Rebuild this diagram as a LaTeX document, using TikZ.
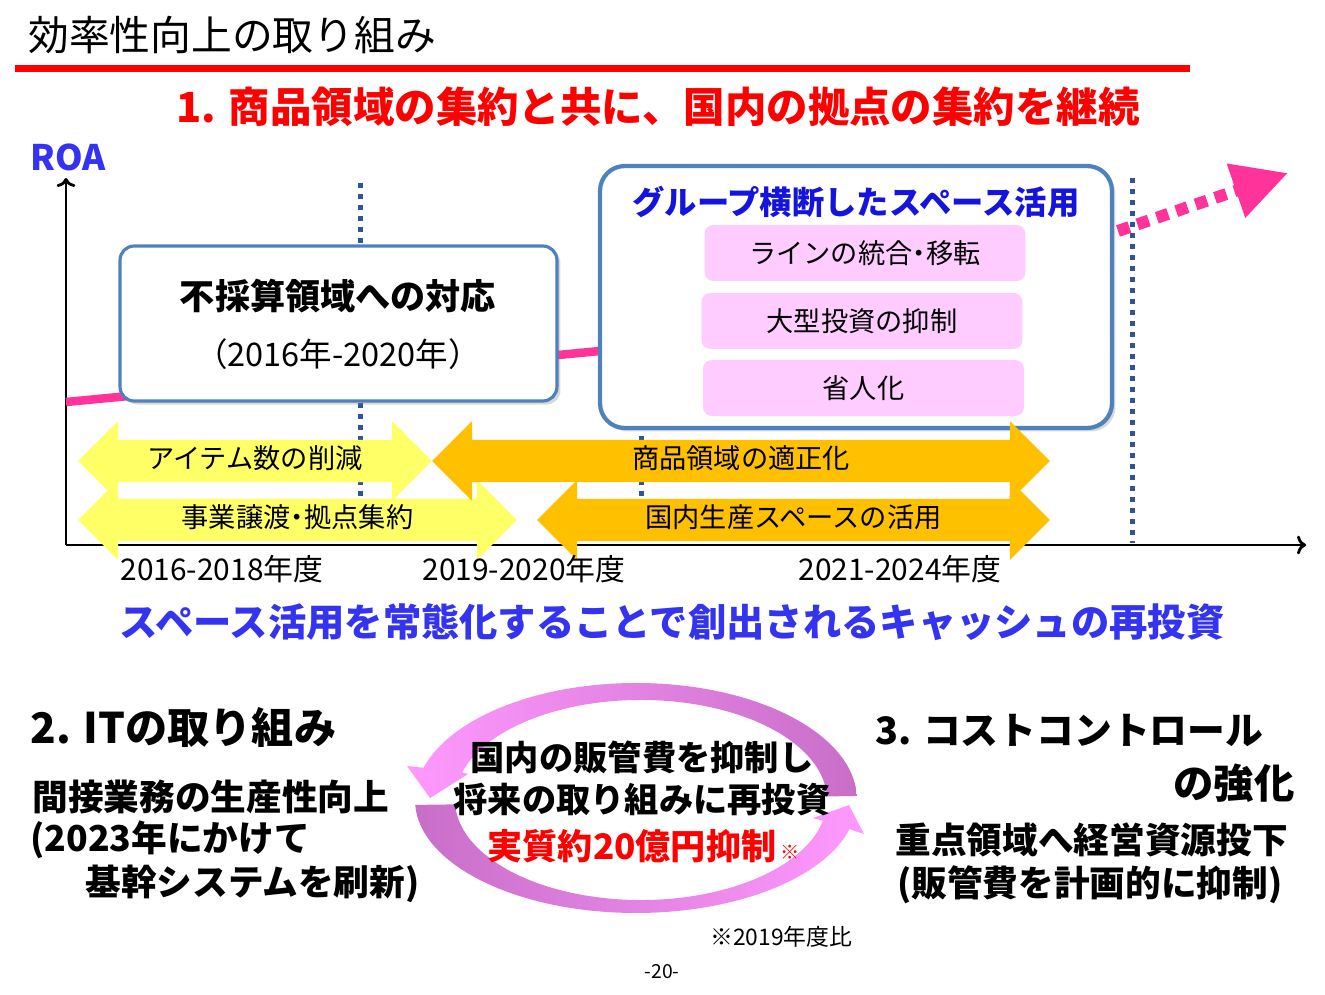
\documentclass[tikz,border=0pt]{standalone}
\usepackage{fontspec}
\setmainfont{Noto Sans CJK JP}
\definecolor{titlered}{RGB}{255, 0, 0}
\definecolor{roablue}{RGB}{51, 51, 240}
\definecolor{groupblue}{RGB}{20, 20, 220}
\definecolor{frameblue}{RGB}{79, 129, 189}
\definecolor{gridblue}{RGB}{47, 85, 151}
\definecolor{trendpink}{RGB}{255, 51, 153}
\definecolor{boxpink}{RGB}{255, 204, 255}
\definecolor{arrowyellow}{RGB}{255, 255, 102}
\definecolor{arrowgold}{RGB}{255, 192, 0}
\definecolor{ringpink}{RGB}{255, 153, 255}
\definecolor{ringpurple}{RGB}{200, 110, 200}
\usetikzlibrary{shapes.arrows, arrows.meta, shadows, positioning}
\newcommand{\middot}{\kern-0.25em・\kern-0.25em}

\begin{document}
\begin{tikzpicture}[x=0.02cm, y=0.02cm,
  roundbox/.style={draw=frameblue, fill=white, rounded corners=#1, drop shadow={shadow xshift=2pt, shadow yshift=-2pt, opacity=0.3}},
  pinkbox/.style={fill=boxpink, rounded corners=5pt, minimum width=6.42cm, minimum height=1.12cm, font=\fontsize{15.5}{18}\selectfont},
  periodarrow/.style={double arrow, double arrow head extend=0.38cm, text height=11pt, text depth=3pt, inner ysep=0.17cm, inner xsep=0pt, font=\fontsize{15.5}{18}\selectfont},
  vline/.style={gridblue, line width=0.1cm, dash pattern=on 0.1cm off 0.12cm},
  yearlabel/.style={font=\fontsize{17}{20}\selectfont},
  flush/.style={inner sep=0pt},
  sidetext/.style={flush, font=\bfseries\fontsize{20.3}{24}\selectfont},
  ringtext/.style={flush, font=\bfseries\fontsize{19.5}{23}\selectfont}]
\useasboundingbox (0,0) rectangle (1325,-994);

% title and heading
\node[flush, anchor=west, font=\fontsize{23.2}{27}\selectfont] (pagetitle) at (28,-35) {効率性向上の取り組み};
\coordinate (ruleleft) at (15,-68);
\coordinate (ruleright) at (1190,-68);
\draw[titlered, line width=0.14cm] (ruleleft) -- (ruleright);
\node[text=titlered, font=\bfseries\fontsize{23.6}{28}\selectfont] (mainhead) at (658,-107) {1. 商品領域の集約と共に、国内の拠点の集約を継続};

% axes
\node[flush, anchor=west, text=roablue, font=\bfseries\fontsize{20}{24}\selectfont] (roalabel) at (30,-157) {ROA};
\coordinate (origin) at (66,-545);
\coordinate (ytop) at (66,-178);
\coordinate (xend) at (1306,-545);
\draw[line width=1.6pt, ->] (origin) -- (ytop);
\draw[line width=1.6pt, ->] (origin) -- (xend);
\foreach \gx/\gtop in {360/183, 641/183, 1132/178}
  \draw[vline] (\gx,-\gtop) -- (\gx,-543);

% ROA trend
\coordinate (trendstart) at (66,-402);
\coordinate (trendend) at (600,-351);
\coordinate (dashstart) at (1118,-231);
\coordinate (dashtip) at (1288,-173);
\draw[trendpink, line width=0.17cm] (trendstart) -- (trendend);
\draw[trendpink, line width=0.24cm, dash pattern=on 0.24cm off 0.17cm, -{Triangle[length=1.1cm, width=1.08cm]}] (dashstart) -- (dashtip);

% boxes
\node[roundbox=8pt, line width=1.8pt, minimum width=8.74cm, minimum height=3.1cm] (lossbox) at (338.5,-323.5) {};
\node[font=\bfseries\fontsize{20}{24}\selectfont] (losstitle) at (338,-296) {不採算領域への対応};
\node[font=\fontsize{18.5}{22}\selectfont] (lossyears) at (338,-354) {（2016年-2020年）};

\node[roundbox=14pt, line width=2.4pt, minimum width=10.24cm, minimum height=5.24cm] (groupbox) at (856,-297) {};
\node[text=groupblue, font=\bfseries\fontsize{18.4}{22}\selectfont] (grouptitle) at (856,-202) {グループ横断したスペース活用};
\node[pinkbox] (lineitem) at (865,-253) {ラインの統合\middot 移転};
\node[pinkbox] (investitem) at (862,-321) {大型投資の抑制};
\node[pinkbox] (laboritem) at (863.5,-388) {省人化};

% period arrows
\node[periodarrow, fill=arrowyellow, minimum height=7.08cm] (itemcut) at (255,-461) {アイテム数の削減};
\node[periodarrow, fill=arrowyellow, minimum height=8.78cm] (sitecut) at (297.5,-520) {事業譲渡\middot 拠点集約};
\node[periodarrow, fill=arrowgold, minimum height=12.36cm] (rangefit) at (741,-461) {商品領域の適正化};
\node[periodarrow, fill=arrowgold, minimum height=10.26cm] (spaceuse) at (793.5,-520) {国内生産スペースの活用};

\node[yearlabel] (years1) at (222,-569) {2016-2018年度};
\node[yearlabel] (years2) at (524,-569) {2019-2020年度};
\node[yearlabel] (years3) at (900,-569) {2021-2024年度};

\node[text=roablue, font=\bfseries\fontsize{21.8}{26}\selectfont] (reinvest) at (672,-622) {スペース活用を常態化することで創出されるキャッシュの再投資};

% 2. IT
\node[flush, anchor=west, font=\bfseries\fontsize{24}{28}\selectfont] (ithead) at (30,-728) {2. ITの取り組み};
\node[sidetext, anchor=west] (ittext1) at (32,-797) {間接業務の生産性向上};
\node[sidetext, anchor=west] (ittext2) at (30,-840) {(2023年にかけて};
\node[sidetext, anchor=west] (ittext3) at (85,-884) {基幹システムを刷新)};

% ring
\shade[left color=ringpink, right color=ringpurple]
  (856.9,-795.9) arc[start angle=2, end angle=164, x radius=221, y radius=117]
  -- (407,-766) -- (430,-798) -- (468,-774)
  -- (462.2,-772.4) arc[start angle=164, end angle=2, x radius=186, y radius=100] -- cycle;
\shade[left color=ringpurple, right color=ringpink]
  (415.2,-804.9) arc[start angle=182.5, end angle=345, x radius=221, y radius=113]
  -- (864,-834) -- (849,-805) -- (813,-818)
  -- (822.9,-820.8) arc[start angle=348, end angle=182.5, x radius=186, y radius=100] -- cycle;
\node[ringtext] (ring1) at (642,-757) {国内の販管費を抑制し};
\node[ringtext] (ring2) at (642,-800) {将来の取り組みに再投資};
\node[flush, text=titlered, font=\bfseries\fontsize{20}{24}\selectfont] (ring3) at (632,-846) {実質約20億円抑制};
\node[flush, anchor=base west, text=titlered, font=\bfseries\fontsize{11}{13}\selectfont] (ringmark) at ([xshift=2pt]ring3.base east) {※};
\node[flush, anchor=west, font=\fontsize{13}{16}\selectfont] (basenote) at (710,-937) {※2019年度比};

% 3. cost
\node[flush, anchor=west, font=\bfseries\fontsize{21.5}{26}\selectfont] (costhead) at (875,-730) {3. コストコントロール};
\node[flush, anchor=east, font=\bfseries\fontsize{23}{27}\selectfont] (costhead2) at (1295,-783) {の強化};
\node[sidetext, anchor=west] (costtext1) at (895,-840) {重点領域へ経営資源投下};
\node[sidetext, anchor=west] (costtext2) at (897,-885) {(販管費を計画的に抑制)};

\node[font=\fontsize{11}{13}\selectfont] (pagenum) at (662,-972) {-20-};
\end{tikzpicture}
\end{document}
